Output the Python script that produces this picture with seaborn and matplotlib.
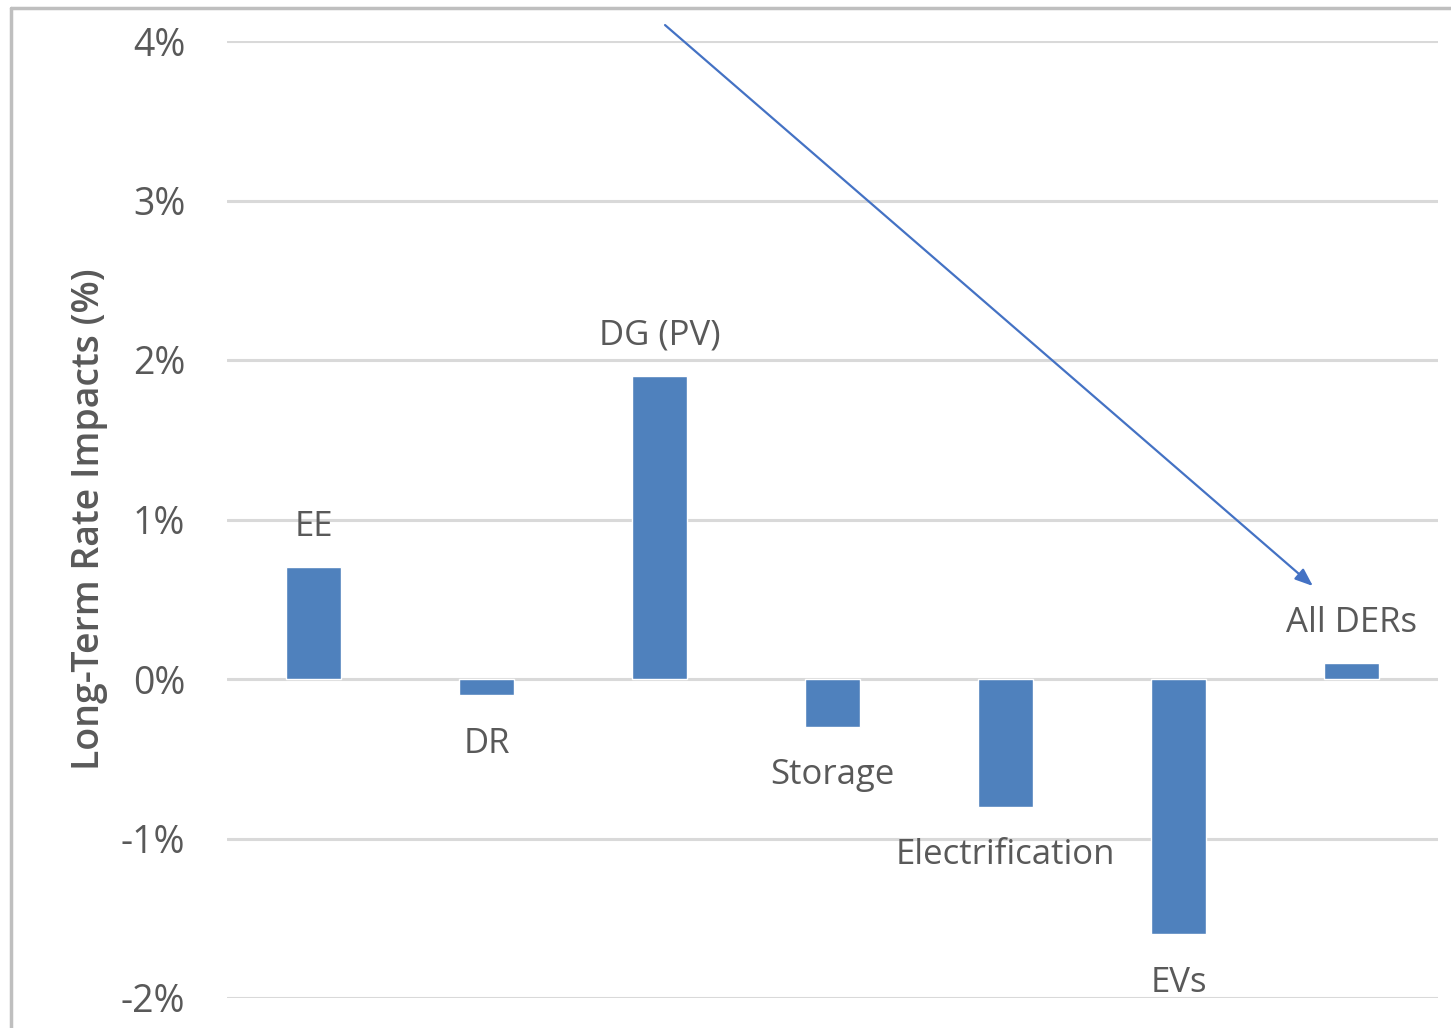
import matplotlib
matplotlib.use("Agg")
import matplotlib.pyplot as plt
from matplotlib.lines import Line2D
import seaborn as sns
import pandas as pd

# Long-term rate impacts by DER type
categories = ["EE", "DR", "DG (PV)", "Storage", "Electrification", "EVs", "All DERs"]
impacts = [0.7, -0.1, 1.9, -0.3, -0.8, -1.6, 0.1]
ytick_values = [-2, -1, 0, 1, 2, 3, 4]
ytick_labels = ["-2%", "-1%", "0%", "1%", "2%", "3%", "4%"]

df = pd.DataFrame({"category": categories, "impact": impacts})

sns.set_theme(style="white")
plt.rcParams["font.family"] = ["Open Sans", "DejaVu Sans"]

text_color = "#595959"
bar_color = "#4F81BD"
grid_color = "#D9D9D9"

fig = plt.figure(figsize=(14.51, 10.28), dpi=100)
ax = fig.add_axes([227 / 1451, 1 - 998 / 1028, 1211 / 1451, 957 / 1028])

sns.barplot(data=df, x="category", y="impact", color=bar_color, width=0.32,
            saturation=1, ax=ax, zorder=3)

ax.set_ylim(-2, 4)
ax.set_xlim(-0.5, len(categories) - 0.5)
ax.set_yticks(ytick_values)
ax.set_yticklabels(ytick_labels)
ax.tick_params(axis="y", length=0, pad=30, labelsize=27, labelcolor=text_color)
ax.set_xticks([])
ax.set_xlabel("")
ax.set_ylabel("Long-Term Rate Impacts (%)", fontsize=27, fontweight="semibold",
              color=text_color, labelpad=9)

for y in ytick_values:
    ax.axhline(y, color=grid_color, lw=2.2, zorder=1)
for side in ["top", "right", "bottom", "left"]:
    ax.spines[side].set_visible(False)

# category names as data labels beyond each bar end
for i, (name, val) in enumerate(zip(categories, impacts)):
    offset = 29 if val >= 0 else -35
    ax.annotate(name, xy=(i, val), xytext=(0, offset), textcoords="offset points",
                ha="center", va="center", fontsize=25, color=text_color, zorder=4)

# trend arrow from the top of the chart down to the combined result
ax.annotate("", xy=(5.777, 0.583), xytext=(2.032, 4.10),
            arrowprops=dict(arrowstyle="-|>,head_length=0.9,head_width=0.35",
                            color="#4472C4", lw=1.6, shrinkA=0, shrinkB=0),
            annotation_clip=False, zorder=5)

# outer chart frame
frame_color = "#BFBFBF"
fig.add_artist(Line2D([11 / 1451, 11 / 1451], [1 - 8 / 1028, 0], transform=fig.transFigure,
                      color=frame_color, lw=2.5))
fig.add_artist(Line2D([11 / 1451, 1], [1 - 8 / 1028, 1 - 8 / 1028], transform=fig.transFigure,
                      color=frame_color, lw=2.5))

fig.savefig("out.png", dpi=100)
